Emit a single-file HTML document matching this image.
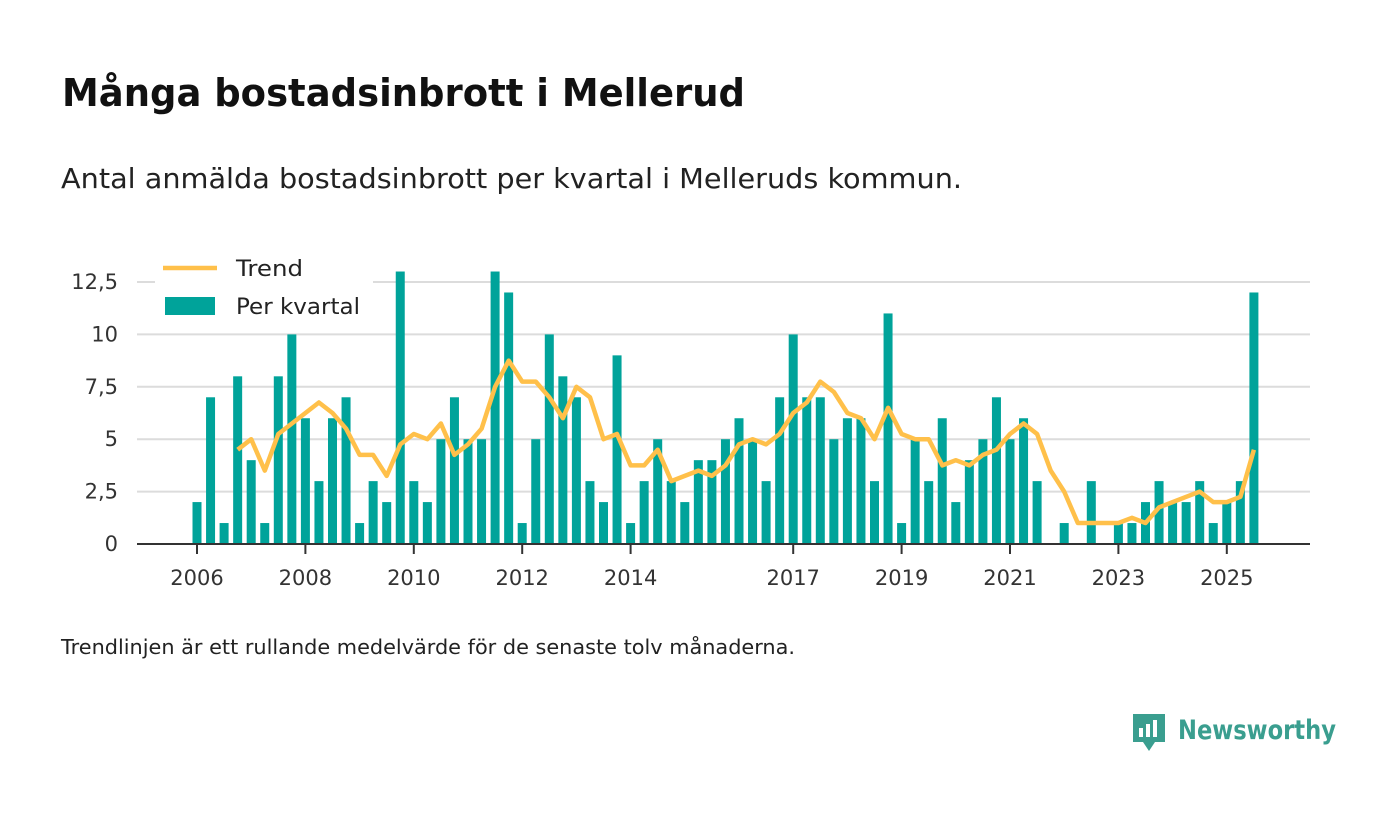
<!DOCTYPE html>
<html><head><meta charset="utf-8"><style>
body{margin:0;background:#fff;font-family:"Liberation Sans","DejaVu Sans",sans-serif;}
#wrap{position:relative;width:1400px;height:813px;overflow:hidden;background:#fff}
</style></head><body>
<div id="wrap">
<svg id="chart" width="1400" height="813">
<text x="62" y="106" font-size="38" font-weight="bold" fill="#111" textLength="683" lengthAdjust="spacingAndGlyphs" font-family="DejaVu Sans, sans-serif">Många bostadsinbrott i Mellerud</text>
<text x="61" y="188" font-size="28" fill="#222" textLength="901" lengthAdjust="spacingAndGlyphs" font-family="DejaVu Sans, sans-serif">Antal anmälda bostadsinbrott per kvartal i Melleruds kommun.</text>
<text x="61" y="654" font-size="20" fill="#222" textLength="734" lengthAdjust="spacingAndGlyphs" font-family="DejaVu Sans, sans-serif">Trendlinjen är ett rullande medelvärde för de senaste tolv månaderna.</text>
<g id="grid"></g><g id="bars"></g><g id="trendg"></g><g id="axis"></g>
<g>
<rect x="155" y="252" width="218" height="76" fill="#fff"/>
<line x1="163" y1="268" x2="217" y2="268" stroke="#ffc04a" stroke-width="4.5"/>
<text x="236" y="276" font-size="22" fill="#222" textLength="67" lengthAdjust="spacingAndGlyphs" font-family="DejaVu Sans, sans-serif">Trend</text>
<rect x="165" y="297" width="50" height="18" fill="#00a39a"/>
<text x="236" y="314" font-size="22" fill="#222" textLength="124" lengthAdjust="spacingAndGlyphs" font-family="DejaVu Sans, sans-serif">Per kvartal</text>
</g>
<g>
<path d="M1133 714 h32 v28 h-10 l-6 9 l-6 -9 h-10 z" fill="#3a9e8f"/>
<rect x="1139" y="728" width="4" height="9" fill="#fff"/><rect x="1146" y="724" width="4" height="13" fill="#fff"/><rect x="1153" y="720" width="4" height="17" fill="#fff"/>
<text x="1178" y="739" font-size="27" font-weight="bold" fill="#3a9e8f" textLength="158" lengthAdjust="spacingAndGlyphs" font-family="DejaVu Sans, sans-serif">Newsworthy</text>
</g>
</svg>
</div>
<script>
const values=[2,7,1,8,4,1,8,10,6,3,6,7,1,3,2,13,3,2,5,7,5,5,13,12,1,5,10,8,7,3,2,9,1,3,5,3,2,4,4,5,6,5,3,7,10,7,7,5,6,6,3,11,1,5,3,6,2,4,5,7,5,6,3,0,1,0,3,0,1,1,2,3,2,2,3,1,2,3,12];
const trend=[null,null,null,4.5,5,3.5,5.25,5.75,6.25,6.75,6.25,5.5,4.25,4.25,3.25,4.75,5.25,5,5.75,4.25,4.75,5.5,7.5,8.75,7.75,7.75,7,6,7.5,7,5,5.25,3.75,3.75,4.5,3,3.25,3.5,3.25,3.75,4.75,5,4.75,5.25,6.25,6.75,7.75,7.25,6.25,6,5,6.5,5.25,5,5,3.75,4,3.75,4.25,4.5,5.25,5.75,5.25,3.5,2.5,1,1,1,1,1.25,1,1.75,2,2.25,2.5,2,2,2.25,4.5];
const yTicks=[0,2.5,5,7.5,10,12.5];
const yTickLabels=["0","2,5","5","7,5","10","12,5"];
const xYears=[2006,2008,2010,2012,2014,2017,2019,2021,2023,2025];
const NS='http://www.w3.org/2000/svg';
function y(v){return 544-v*(262/12.5);}
function xq(i){return 197+i*13.55;}
function xy(yr){return 197+(yr-2006)*54.2;}
function mk(tag,attrs,parent){const e=document.createElementNS(NS,tag);for(const k in attrs)e.setAttribute(k,attrs[k]);parent.appendChild(e);return e;}
const grid=document.getElementById('grid'),bars=document.getElementById('bars'),tg=document.getElementById('trendg'),ax=document.getElementById('axis');
yTicks.forEach((t,i)=>{
  if(t>0){const l=mk('line',{x1:137,x2:1310,y1:y(t),y2:y(t),stroke:'#dcdcdc','stroke-width':2},grid);
  
  }
  const tx=mk('text',{x:118,y:y(t)+7,'text-anchor':'end','font-size':21,fill:'#333','font-family':'DejaVu Sans, sans-serif'},ax);
  tx.textContent=yTickLabels[i];
  
  
});
values.forEach((v,i)=>{
  const r=mk('rect',{x:xq(i)-4.5,y:y(v),width:9,height:544-y(v),fill:'#00a39a'},bars);
  
  
});
let d='';trend.forEach((v,i)=>{if(v==null)return;d+=(d?'L':'M')+xq(i).toFixed(1)+' '+y(v).toFixed(1);});
const p=mk('path',{d:d,fill:'none',stroke:'#ffc04a','stroke-width':4.5,'stroke-linejoin':'round'},tg);


const al=mk('line',{x1:137,x2:1310,y1:544,y2:544,stroke:'#333','stroke-width':2},ax);


xYears.forEach(yr=>{
  const t=mk('line',{x1:xy(yr),x2:xy(yr),y1:544,y2:554,stroke:'#333','stroke-width':2},ax);
  
  
  const tx=mk('text',{x:xy(yr),y:585,'text-anchor':'middle','font-size':21,fill:'#333','font-family':'DejaVu Sans, sans-serif'},ax);
  tx.textContent=yr;
  
  
});
</script>
</body></html>
